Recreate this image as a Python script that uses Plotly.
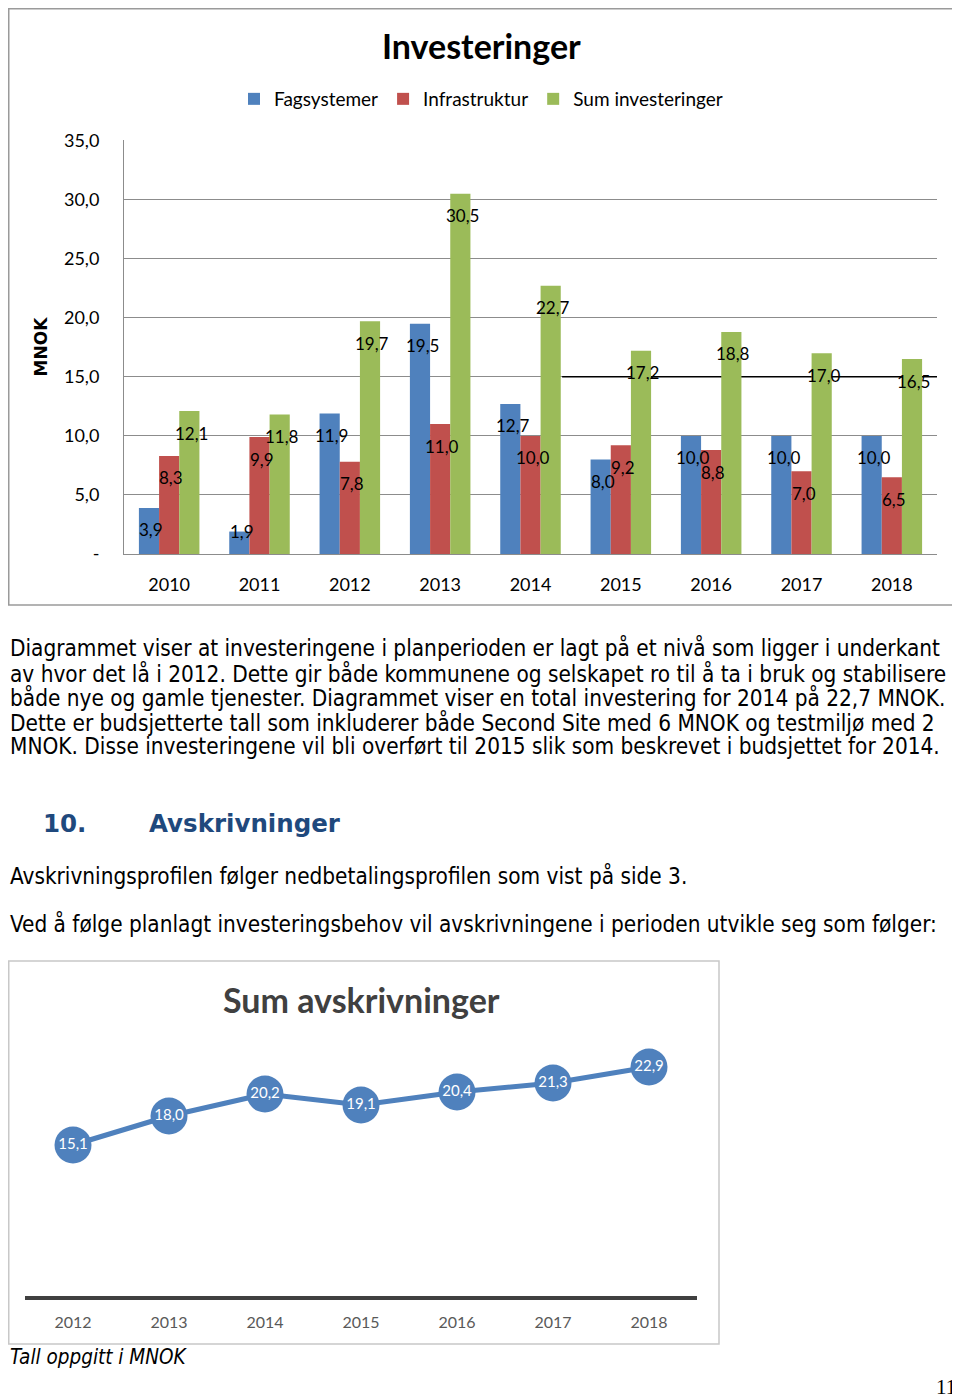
import plotly.graph_objects as go

W, H = 960, 1397
OX, OY = 8, 8  # page offset of the figure (body margin)

# ---------------- data ----------------
years = ["2010", "2011", "2012", "2013", "2014", "2015", "2016", "2017", "2018"]
fagsystemer = [3.9, 1.9, 11.9, 19.5, 12.7, 8.0, 10.0, 10.0, 10.0]
infrastruktur = [8.3, 9.9, 7.8, 11.0, 10.0, 9.2, 8.8, 7.0, 6.5]
sum_invest = [12.1, 11.8, 19.7, 30.5, 22.7, 17.2, 18.8, 17.0, 16.5]

y_ticks = [0, 5, 10, 15, 20, 25, 30, 35]
y_ticktext = ["-", "5,0", "10,0", "15,0", "20,0", "25,0", "30,0", "35,0"]

avskr_years = ["2012", "2013", "2014", "2015", "2016", "2017", "2018"]
avskr_values = [15.1, 18.0, 20.2, 19.1, 20.4, 21.3, 22.9]

paragraph_lines = [
    "Diagrammet viser at investeringene i planperioden er lagt på et nivå som ligger i underkant",
    "av hvor det lå i 2012. Dette gir både kommunene og selskapet ro til å ta i bruk og stabilisere",
    "både nye og gamle tjenester. Diagrammet viser en total investering for 2014 på 22,7 MNOK.",
    "Dette er budsjetterte tall som inkluderer både Second Site med 6 MNOK og testmiljø med 2",
    "MNOK. Disse investeringene vil bli overført til 2015 slik som beskrevet i budsjettet for 2014.",
]
line_after_heading_1 = "Avskrivningsprofilen følger nedbetalingsprofilen som vist på side 3."
line_after_heading_2 = "Ved å følge planlagt investeringsbehov vil avskrivningene i perioden utvikle seg som følger:"


def fmt(v):
    return f"{v:.1f}".replace(".", ",")


def px_x(p):
    return (p - OX) / W


def px_y(p):
    return 1 - (p - OY) / H


CHART_FONT = "Lato, 'Open Sans', sans-serif"
TEXT_FONT = "'DejaVu Sans Condensed', 'DejaVu Sans', Verdana, sans-serif"
HEAD_FONT = "'DejaVu Sans', Verdana, sans-serif"

fig = go.Figure()

colors = {"Fagsystemer": "#4F81BD", "Infrastruktur": "#C0504D", "Sum investeringer": "#9BBB59"}
series = [("Fagsystemer", fagsystemer), ("Infrastruktur", infrastruktur), ("Sum investeringer", sum_invest)]

for name, vals in series:
    fig.add_trace(go.Bar(
        x=years, y=vals, name=name, marker=dict(color=colors[name], line=dict(width=0)),
        xaxis="x", yaxis="y", hoverinfo="skip",
    ))

# data labels on bars (x = category index on the category axis)
shifts = [-20, 0, 20]
annotations = []
for (name, vals), sh in zip(series, shifts):
    for i, v in enumerate(vals):
        annotations.append(dict(
            x=i, y=v, xref="x", yref="y", text=fmt(v), showarrow=False,
            xshift=sh + 2, yshift=(-22 if v >= 3 else 0),
            font=dict(family=CHART_FONT, size=17, color="black"),
        ))

# line chart
fig.add_trace(go.Scatter(
    x=avskr_years, y=avskr_values, mode="lines+markers+text",
    text=[fmt(v) for v in avskr_values], textposition="middle center",
    textfont=dict(family=CHART_FONT, size=15, color="white"),
    line=dict(color="#4F81BD", width=5),
    marker=dict(size=37, color="#4F81BD"),
    xaxis="x2", yaxis="y2", showlegend=False, hoverinfo="skip", cliponaxis=False,
))

# bar chart pixel geometry
bar_top, bar_bot = 140, 554
ymax = 35.05
fig.update_layout(
    xaxis=dict(
        domain=[px_x(124), px_x(937)], anchor="y", type="category", range=[-0.5, 8.5],
        showline=True, linecolor="#8c8c8c", linewidth=1, showgrid=False, automargin=False,
        ticks="outside", ticklen=14, tickcolor="rgba(0,0,0,0)",
        tickfont=dict(family=CHART_FONT, size=18, color="black"),
    ),
    yaxis=dict(
        domain=[px_y(bar_bot), px_y(bar_top)], anchor="x", range=[0, ymax],
        tickvals=y_ticks, ticktext=y_ticktext, automargin=False,
        showline=True, linecolor="#8c8c8c", linewidth=1,
        showgrid=True, gridcolor="#8c8c8c", gridwidth=1, zeroline=False,
        ticks="outside", ticklen=20, tickcolor="rgba(0,0,0,0)",
        tickfont=dict(family=CHART_FONT, size=18, color="black"),
        title=dict(text="<b>MNOK</b>", font=dict(family=HEAD_FONT, size=17, color="black"), standoff=12),
    ),
    xaxis2=dict(
        domain=[px_x(25), px_x(697)], anchor="y2", type="category", range=[-0.5, 6.5],
        showline=True, linecolor="#404040", linewidth=4, showgrid=False, automargin=False,
        ticks="outside", ticklen=9, tickcolor="rgba(0,0,0,0)",
        tickfont=dict(family=CHART_FONT, size=16, color="#595959"),
    ),
    yaxis2=dict(
        domain=[px_y(1296), px_y(1020)], anchor="x2", range=[0, 27.6],
        visible=False, showgrid=False, zeroline=False, automargin=False,
    ),
    barmode="group", bargap=0.33, bargroupgap=0,
    width=W, height=H, autosize=False,
    margin=dict(l=0, r=0, t=0, b=0, pad=0, autoexpand=False),
    paper_bgcolor="white", plot_bgcolor="white",
    showlegend=True,
    legend=dict(
        orientation="h", x=px_x(481), xanchor="center", y=px_y(99), yanchor="middle",
        font=dict(family=CHART_FONT, size=19, color="black"), itemwidth=30,
        bgcolor="rgba(0,0,0,0)",
    ),
)

# titles & page text
annotations += [
    dict(text="<b>Investeringer</b>", x=px_x(481), y=px_y(45), xref="paper", yref="paper",
         showarrow=False, xanchor="center", yanchor="middle",
         font=dict(family=CHART_FONT, size=34, color="black")),
    dict(text="<b>Sum avskrivninger</b>", x=px_x(361), y=px_y(1000), xref="paper", yref="paper",
         showarrow=False, xanchor="center", yanchor="middle",
         font=dict(family=CHART_FONT, size=34, color="#404040")),
]
line_ys = [648, 673, 697, 722, 746]
for txt, yy in zip(paragraph_lines, line_ys):
    annotations.append(dict(text=txt, x=px_x(8), y=px_y(yy), xref="paper", yref="paper",
                            showarrow=False, xanchor="left", yanchor="middle",
                            font=dict(family=TEXT_FONT, size=22.4, color="black")))
annotations += [
    dict(text="<b>10.</b>", x=px_x(41), y=px_y(823), xref="paper", yref="paper", showarrow=False,
         xanchor="left", yanchor="middle", font=dict(family=HEAD_FONT, size=24.5, color="#1F497D")),
    dict(text="<b>Avskrivninger</b>", x=px_x(147), y=px_y(823), xref="paper", yref="paper", showarrow=False,
         xanchor="left", yanchor="middle", font=dict(family=HEAD_FONT, size=24.5, color="#1F497D")),
    dict(text=line_after_heading_1, x=px_x(8), y=px_y(875), xref="paper", yref="paper", showarrow=False,
         xanchor="left", yanchor="middle", font=dict(family=TEXT_FONT, size=22.4, color="black")),
    dict(text=line_after_heading_2, x=px_x(8), y=px_y(923), xref="paper", yref="paper", showarrow=False,
         xanchor="left", yanchor="middle", font=dict(family=TEXT_FONT, size=22.4, color="black")),
    dict(text="<i>Tall oppgitt i MNOK</i>", x=px_x(8), y=px_y(1357), xref="paper", yref="paper", showarrow=False,
         xanchor="left", yanchor="middle", font=dict(family=TEXT_FONT, size=20.5, color="black")),
    dict(text="11", x=px_x(958), y=px_y(1387), xref="paper", yref="paper", showarrow=False,
         xanchor="right", yanchor="middle", font=dict(family="'Liberation Serif', 'DejaVu Serif', serif", size=21, color="black")),
]
fig.update_layout(annotations=annotations)

shapes = [
    # bar chart frame
    dict(type="rect", xref="paper", yref="paper", x0=px_x(8.75), x1=px_x(958), y0=px_y(605), y1=px_y(8.75),
         line=dict(color="#9a9a9a", width=1.5), fillcolor="rgba(0,0,0,0)", layer="below"),
    # line chart frame
    dict(type="rect", xref="paper", yref="paper", x0=px_x(8.75), x1=px_x(719), y0=px_y(1344), y1=px_y(961),
         line=dict(color="#c8c8c8", width=1.5), fillcolor="rgba(0,0,0,0)", layer="below"),
    # stray black line at 15 in bar chart
    dict(type="line", xref="x", yref="y", x0=4.35, x1=8.5, y0=15, y1=15,
         line=dict(color="black", width=1.5), layer="between"),
]
fig.update_layout(shapes=shapes)

fig.write_html("out.html", config={"displayModeBar": False})
